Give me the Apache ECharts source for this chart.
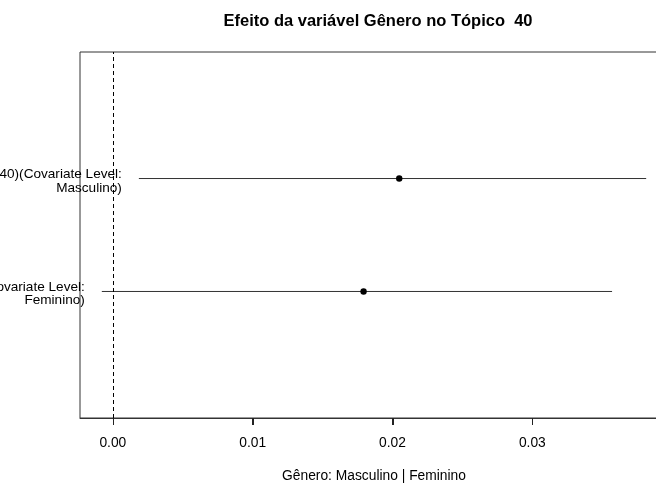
<!DOCTYPE html>
<html>
<head>
<meta charset="utf-8">
<script src="https://cdn.jsdelivr.net/npm/echarts@6/dist/echarts.min.js"></script>
<style>
  html, body { margin: 0; padding: 0; background: #fff; overflow: hidden; }
  /* plot box runs past the right edge of the window, as in the reference */
  #chart { width: 680px; height: 484px; }
</style>
</head>
<body>
<div id="chart"></div>
<script>
// covariate levels, bottom to top
const levels = ['Feminino', 'Masculino'];
const levelPos = [1, 2];
const estimates = [0.01793, 0.02048];
const lowerCI = [-0.00079, 0.00186];
const upperCI = [0.0357, 0.03814];
const labelPrefix = 'Topic 40)(Covariate Level:';
const xTicks = [0, 0.01, 0.02, 0.03];

const yMin = -0.12;
const yMax = 3.12;
const fontFamily = '"Liberation Sans", Arial, sans-serif';

let chartDom = document.getElementById('chart');
let myChart = echarts.init(chartDom);

let rows = levels.map((lv, i) => [lowerCI[i], upperCI[i], estimates[i], levelPos[i], labelPrefix + '\n' + lv + ')']);

let option = {
  animation: false,
  title: {
    text: 'Efeito da variável Gênero no Tópico  40',
    left: 373,
    top: 8,
    textAlign: 'center',
    textStyle: { fontFamily: fontFamily, fontSize: 16.5, fontWeight: 'bold', color: '#000' },
  },
  grid: {
    left: 80,
    right: 12,
    top: 52,
    bottom: 66,
    outerBoundsMode: 'none',
    show: true,
    borderColor: '#333',
    borderWidth: 1,
  },
  xAxis: {
    type: 'value',
    min: -0.00235,
    max: 0.0397,
    name: 'Gênero: Masculino | Feminino',
    nameLocation: 'middle',
    nameGap: 51,
    nameTextStyle: { fontFamily: fontFamily, fontSize: 13.8, color: '#000' },
    splitLine: { show: false },
    axisLine: { show: true, onZero: false, lineStyle: { color: '#333' } },
    axisTick: {
      show: true,
      length: 7,
      lineStyle: { color: '#222', width: 1 },
      customValues: xTicks,
    },
    axisLabel: {
      margin: 18,
      fontFamily: fontFamily,
      fontSize: 13.8,
      color: '#000',
      customValues: xTicks,
      formatter: (v) => v.toFixed(2),
    },
  },
  yAxis: {
    type: 'value',
    min: yMin,
    max: yMax,
    show: false,
    splitLine: { show: false },
  },
  series: [
    {
      // tick marks below the box, placed through the x scale
      type: 'custom',
      clip: false,
      silent: true,
      z: 10,
      data: xTicks.map((v) => [v, yMin]),
      encode: { x: 0, y: 1 },
      renderItem: (params, api) => {
        let p = api.coord([api.value(0), api.value(1)]);
        return {
          type: 'rect',
          shape: { x: Math.round(p[0]), y: p[1], width: 1, height: 7 },
          style: { fill: '#222' },
        };
      },
    },
    {
      type: 'custom',
      clip: false,
      data: rows,
      encode: { x: [0, 1, 2], y: 3 },
      renderItem: (params, api) => {
        let lo = api.coord([api.value(0), api.value(3)]);
        let hi = api.coord([api.value(1), api.value(3)]);
        let pt = api.coord([api.value(2), api.value(3)]);
        return {
          type: 'group',
          children: [
            {
              type: 'line',
              shape: { x1: lo[0], y1: lo[1], x2: hi[0], y2: hi[1] },
              style: { stroke: '#333', lineWidth: 1 },
            },
            {
              type: 'circle',
              shape: { cx: pt[0], cy: pt[1], r: 3.2 },
              style: { fill: '#000' },
            },
            {
              type: 'text',
              x: lo[0] - 17,
              y: lo[1] + 2.5,
              style: {
                text: rows[params.dataIndex][4],
                align: 'right',
                verticalAlign: 'middle',
                fontFamily: fontFamily,
                fontSize: 13.6,
                lineHeight: 13.5,
                fill: '#000',
              },
            },
          ],
        };
      },
      markLine: {
        silent: true,
        symbol: 'none',
        label: { show: false },
        lineStyle: { color: '#000', type: [4, 3], width: 1 },
        data: [{ xAxis: 0 }],
      },
    },
  ],
};

option && myChart.setOption(option);
</script>
</body>
</html>
